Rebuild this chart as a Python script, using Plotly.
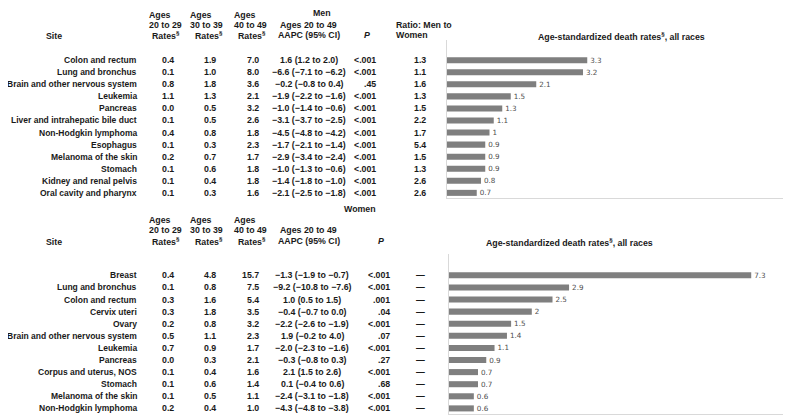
import plotly.graph_objects as go

# The page body has an 8px margin, so the figure is sized to the visible window
# minus that margin, and page-pixel positions are shifted by OFF.
PAGE_W, PAGE_H = 791, 419
OFF = 8
W, H = PAGE_W - OFF, PAGE_H - OFF

# ---------------- data ----------------
men_sites = ["Colon and rectum", "Lung and bronchus", "Brain and other nervous system", "Leukemia",
             "Pancreas", "Liver and intrahepatic bile duct", "Non-Hodgkin lymphoma", "Esophagus",
             "Melanoma of the skin", "Stomach", "Kidney and renal pelvis", "Oral cavity and pharynx"]
men_r2029 = ["0.4", "0.1", "0.8", "1.1", "0.0", "0.1", "0.4", "0.1", "0.2", "0.1", "0.1", "0.1"]
men_r3039 = ["1.9", "1.0", "1.8", "1.3", "0.5", "0.5", "0.8", "0.3", "0.7", "0.6", "0.4", "0.3"]
men_r4049 = ["7.0", "8.0", "3.6", "2.1", "3.2", "2.6", "1.8", "2.3", "1.7", "1.8", "1.8", "1.6"]
men_aapc = ["1.6 (1.2 to 2.0)", "−6.6 (−7.1 to −6.2)", "−0.2 (−0.8 to 0.4)", "−1.9 (−2.2 to −1.6)",
            "−1.0 (−1.4 to −0.6)", "−3.1 (−3.7 to −2.5)", "−4.5 (−4.8 to −4.2)", "−1.7 (−2.1 to −1.4)",
            "−2.9 (−3.4 to −2.4)", "−1.0 (−1.3 to −0.6)", "−1.4 (−1.8 to −1.0)", "−2.1 (−2.5 to −1.8)"]
men_p = ["<.001", "<.001", ".45", "<.001", "<.001", "<.001", "<.001", "<.001", "<.001", "<.001", "<.001", "<.001"]
men_ratio = ["1.3", "1.1", "1.6", "1.3", "1.5", "2.2", "1.7", "5.4", "1.5", "1.3", "2.6", "2.6"]
men_rate = [3.3, 3.2, 2.1, 1.5, 1.3, 1.1, 1, 0.9, 0.9, 0.9, 0.8, 0.7]

women_sites = ["Breast", "Lung and bronchus", "Colon and rectum", "Cervix uteri", "Ovary",
               "Brain and other nervous system", "Leukemia", "Pancreas", "Corpus and uterus, NOS",
               "Stomach", "Melanoma of the skin", "Non-Hodgkin lymphoma"]
women_r2029 = ["0.4", "0.1", "0.3", "0.3", "0.2", "0.5", "0.7", "0.0", "0.1", "0.1", "0.1", "0.2"]
women_r3039 = ["4.8", "0.8", "1.6", "1.8", "0.8", "1.1", "0.9", "0.3", "0.4", "0.6", "0.5", "0.4"]
women_r4049 = ["15.7", "7.5", "5.4", "3.5", "3.2", "2.3", "1.7", "2.1", "1.6", "1.4", "1.1", "1.0"]
women_aapc = ["−1.3 (−1.9 to −0.7)", "−9.2 (−10.8 to −7.6)", "1.0 (0.5 to 1.5)", "−0.4 (−0.7 to 0.0)",
              "−2.2 (−2.6 to −1.9)", "1.9 (−0.2 to 4.0)", "−2.0 (−2.3 to −1.6)", "−0.3 (−0.8 to 0.3)",
              "2.1 (1.5 to 2.6)", "0.1 (−0.4 to 0.6)", "−2.4 (−3.1 to −1.8)", "−4.3 (−4.8 to −3.8)"]
women_p = ["<.001", "<.001", ".001", ".04", "<.001", ".07", "<.001", ".27", "<.001", ".68", "<.001", "<.001"]
women_ratio = ["—", "—", "—", "—", "—", "—", "—", "—", "—", "—", "—", "—"]
women_rate = [7.3, 2.9, 2.5, 2, 1.5, 1.4, 1.1, 0.9, 0.7, 0.7, 0.6, 0.6]

chart_title = "Age-standardized death rates<sup>§</sup>, all races"

# ---------------- styling / layout constants ----------------
TXT = "#1a1a1a"
FONT = "Liberation Sans, Arial, sans-serif"
FS = 8.8
SITE_FS = 8.5
BAR = "#7f7f7f"
LINE = "#d9d9d9"

annotations = []


def fx(px):
    return (px - OFF) / W


def fy(py):
    return 1 - (py - OFF) / H


def ann(text, px, py, xa="center", size=FS):
    annotations.append(dict(
        text=text, x=fx(px), y=fy(py), xref="paper", yref="paper",
        xanchor=xa, yanchor="middle", showarrow=False,
        font=dict(family=FONT, size=size, color=TXT, weight="bold"),
    ))


def section(title, title_x, title_y, h1, h2, h3, row0, dy, sites, r1, r2, r3, aapc, pvals, ratio,
            aapc_x, p_right, p_head_x, ratio_head, chart_x, chart_xa):
    ann(title, title_x, title_y)
    for lx, rx, lab in [(147, 150, "20 to 29"), (188, 193, "30 to 39"), (232, 236, "40 to 49")]:
        ann("Ages", lx, h1, "left")
        ann(lab, lx, h2, "left")
        ann("Rates<sup>§</sup>", rx, h3, "left")
    ann("Site", 54, h3 + 1)
    ann("Ages 20 to 49", 308, h2)
    ann("AAPC (95% CI)", 309, h3)
    ann("<i>P</i>", p_head_x, h3)
    for i, t in enumerate(ratio_head):
        ann(t, 394, h2 + i * 11, "left")
    ann(chart_title, chart_x, h3 + 1, chart_xa)
    for i in range(len(sites)):
        y = row0 + dy * i
        ann(sites[i], 139, y, "right", SITE_FS)
        ann(r1[i], 176, y, "right")
        ann(r2[i], 218, y, "right")
        ann(r3[i], 261, y, "right")
        ann(aapc[i], aapc_x, y)
        ann(pvals[i], p_right, y, "right")
        ann(ratio[i], 420, y)


# Men section (page pixel positions)
M_ROW0, M_DY = 60.2, 12.06
M_TOP_PX, M_BOT_PX = 40, 198
section("Men", 322, 12.5, 15, 24.5, 35, M_ROW0, M_DY, men_sites, men_r2029, men_r3039, men_r4049,
        men_aapc, men_p, men_ratio, 309, 378, 367, ["Ratio: Men to", "Women"], 621, "center")

# Women section
F_ROW0, F_DY = 275.3, 12.1
F_TOP_PX, F_BOT_PX = 254, 414
section("Women", 360, 209, 219.5, 230, 241, F_ROW0, F_DY, women_sites, women_r2029, women_r3039,
        women_r4049, women_aapc, women_p, women_ratio, 312, 392, 381, [], 569, "center")


def yrange(row0, dy, n, top_px, bot_px):
    top = -(row0 - top_px) / dy
    bot = (n - 1) + (bot_px - (row0 + dy * (n - 1))) / dy
    return [bot, top]


fig = go.Figure()
bar_font = dict(family="DejaVu Sans, Verdana, sans-serif", size=7.2, color="#4d4d4d")
for xs, ys, xa, ya in [(men_rate, men_sites, "x", "y"), (women_rate, women_sites, "x2", "y2")]:
    fig.add_trace(go.Bar(
        x=xs, y=ys, orientation="h", marker=dict(color=BAR, line=dict(width=0)),
        text=xs, texttemplate="%{x}", textposition="outside", textfont=bar_font,
        constraintext="none", cliponaxis=False, xaxis=xa, yaxis=ya, hoverinfo="skip"))

ax_common = dict(showgrid=False, zeroline=False, showticklabels=False, ticks="",
                 showline=True, linecolor=LINE, linewidth=1, fixedrange=True)

fig.update_layout(
    width=W, height=H, margin=dict(l=0, r=0, t=0, b=0),
    paper_bgcolor="white", plot_bgcolor="white", showlegend=False,
    bargap=0.5,
    xaxis=dict(domain=[fx(447), fx(785)], range=[0, 338 / 42.5], anchor="y", **ax_common),
    yaxis=dict(domain=[fy(M_BOT_PX), fy(M_TOP_PX)], anchor="x",
               categoryorder="array", categoryarray=men_sites,
               range=yrange(M_ROW0, M_DY, len(men_sites), M_TOP_PX, M_BOT_PX), **ax_common),
    xaxis2=dict(domain=[fx(449), fx(785)], range=[0, 336 / 41.4], anchor="y2", **ax_common),
    yaxis2=dict(domain=[fy(F_BOT_PX), fy(F_TOP_PX)], anchor="x2",
                categoryorder="array", categoryarray=women_sites,
                range=yrange(F_ROW0, F_DY, len(women_sites), F_TOP_PX, F_BOT_PX), **ax_common),
    annotations=annotations,
)

fig.write_html("out.html")
